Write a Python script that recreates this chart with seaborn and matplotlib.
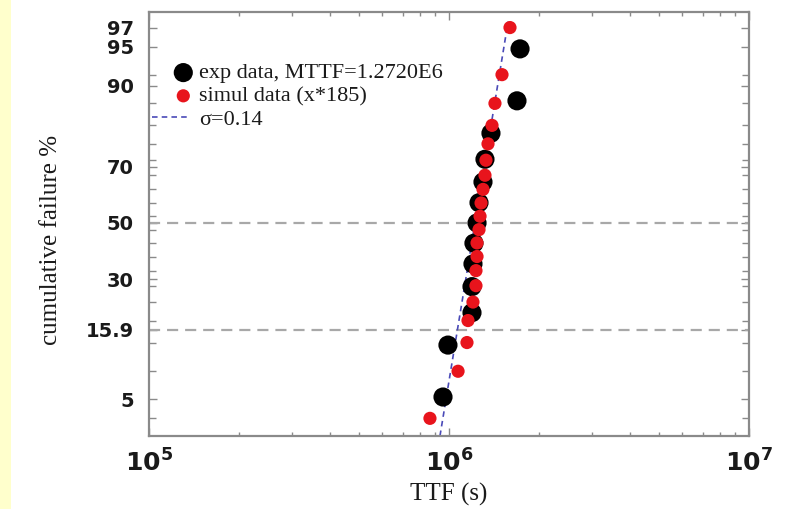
import numpy as np
import pandas as pd
import matplotlib
matplotlib.use("Agg")
import matplotlib.pyplot as plt
import matplotlib.ticker as mticker
from matplotlib.patches import Rectangle
from matplotlib.legend_handler import HandlerPathCollection
from matplotlib.collections import PathCollection
import seaborn as sns
from statistics import NormalDist

# ---------------- data ----------------
exp_ttf = [0.955e6, 0.992e6, 1.193e6, 1.193e6, 1.202e6, 1.211e6, 1.240e6,
           1.259e6, 1.298e6, 1.318e6, 1.380e6, 1.685e6, 1.725e6]
exp_pct = [5.2, 12.7, 20.1, 27.6, 35.1, 42.5, 50.0, 57.5, 64.9, 72.4, 79.9, 87.3, 94.8]

sim_ttf = [0.864e6, 1.072e6, 1.148e6, 1.157e6, 1.202e6, 1.230e6, 1.230e6,
           1.240e6, 1.240e6, 1.259e6, 1.269e6, 1.279e6, 1.298e6, 1.318e6,
           1.328e6, 1.349e6, 1.391e6, 1.423e6, 1.502e6, 1.597e6]
sim_pct = [3.4, 8.3, 13.2, 18.1, 23.0, 27.9, 32.8, 37.7, 42.6, 47.5,
           52.5, 57.4, 62.3, 67.2, 72.1, 77.0, 81.9, 86.8, 91.7, 96.6]

fit_ttf = [0.933e6, 1.574e6]
fit_pct = [2.33, 97.0]

ref_pct = [50, 15.9]

ytick_vals = [5, 15.9, 30, 50, 70, 90, 95, 96.6]
ytick_labels = ["5", "15.9", "30", "50", "70", "90", "95", "97"]
xtick_vals = [1e5, 1e6, 1e7]
xtick_labels = [r"$\mathbf{10^{5}}$", r"$\mathbf{10^{6}}$", r"$\mathbf{10^{7}}$"]

exp_label = "exp data, MTTF=1.2720E6"
sim_label = "simul data (x*185)"
fit_label = "σ=0.14"

# ---------------- probit scale helpers ----------------
_nd = NormalDist()

def _fwd(p):
    p = np.asarray(p, dtype=float)
    q = np.clip(p / 100.0, 1e-12, 1 - 1e-12)
    out = [(_nd.inv_cdf(v) if np.isfinite(v) else np.nan) for v in np.ravel(q)]
    return np.array(out, dtype=float).reshape(q.shape)

def _inv(z):
    z = np.asarray(z, dtype=float)
    out = [(_nd.cdf(v) * 100.0 if np.isfinite(v) else np.nan) for v in np.ravel(z)]
    return np.array(out, dtype=float).reshape(z.shape)


class RightMarkerHandler(HandlerPathCollection):
    def get_xdata(self, legend, xdescent, ydescent, width, height, fontsize):
        xdata, _ = super().get_xdata(legend, xdescent, ydescent, width, height, fontsize)
        return xdata, [-xdescent + 0.88 * width]


# ---------------- figure ----------------
sns.set_theme(style="white")
plt.rcParams["font.family"] = ["DejaVu Sans"]
plt.rcParams["lines.scale_dashes"] = False
plt.rcParams["mathtext.fontset"] = "dejavusans"

fig = plt.figure(figsize=(8, 5.09), dpi=100)
fig.patch.set_facecolor("white")
fig.patches.append(Rectangle((0, 0), 11 / 800, 1, transform=fig.transFigure,
                             facecolor="#FFFFCC", edgecolor="none", zorder=-10))
ax = fig.add_axes([149 / 800, 1 - 436 / 509, 600 / 800, 424 / 509])

exp_df = pd.DataFrame({"ttf": exp_ttf, "pct": exp_pct})
sim_df = pd.DataFrame({"ttf": sim_ttf, "pct": sim_pct})
fit_df = pd.DataFrame({"ttf": fit_ttf, "pct": fit_pct})

ax.set_xscale("log")
ax.set_yscale("function", functions=(_fwd, _inv))

for r in ref_pct:
    ax.axhline(r, color="#a8a8a8", lw=1.6, dashes=(8, 5), zorder=1)

sns.lineplot(data=fit_df, x="ttf", y="pct", ax=ax, color="#4a4ab8", lw=1.2,
             dashes=False, label=fit_label, zorder=2, sort=False)
ax.lines[-1].set_dashes((4, 3))

sns.scatterplot(data=exp_df, x="ttf", y="pct", ax=ax, color="black", s=190,
                edgecolor="none", label=exp_label, zorder=3)
sns.scatterplot(data=sim_df, x="ttf", y="pct", ax=ax, color="#e8141c", s=90,
                edgecolor="none", label=sim_label, zorder=4)

ax.set_xlim(1e5, 1e7)
ax.set_ylim(2.33, 97.56)

ax.xaxis.set_major_locator(mticker.FixedLocator(xtick_vals))
ax.set_xticklabels(xtick_labels)
ax.xaxis.set_minor_locator(mticker.LogLocator(base=10, subs=np.arange(2, 10)))
ax.xaxis.set_minor_formatter(mticker.NullFormatter())

ax.yaxis.set_major_locator(mticker.FixedLocator(ytick_vals))
ax.yaxis.set_major_formatter(mticker.FixedFormatter(ytick_labels))
ax.yaxis.set_minor_locator(mticker.FixedLocator(sim_pct[:-1]))
ax.yaxis.set_minor_formatter(mticker.NullFormatter())

for s in ax.spines.values():
    s.set_visible(True)
    s.set_color("#8a8a8a")
    s.set_linewidth(1.6)

ax.tick_params(axis="both", which="both", direction="in", colors="#8a8a8a",
               top=True, right=True, bottom=True, left=True)
ax.tick_params(axis="x", which="major", length=6, width=1, pad=10,
               labelsize=18, labelcolor="#1a1a1a")
ax.tick_params(axis="x", which="minor", length=3, width=1)
ax.tick_params(axis="y", which="major", length=6, width=1, pad=11,
               labelsize=14, labelcolor="#1a1a1a")
ax.tick_params(axis="y", which="minor", length=5, width=1)
for lab in ax.get_yticklabels():
    lab.set_fontweight("bold")

serif = ["Liberation Serif", "DejaVu Serif"]
ax.set_xlabel("TTF (s)", family=serif, fontsize=18, color="#1a1a1a")
ax.set_ylabel("cumulative failure %", family=serif, fontsize=18, color="#1a1a1a")
ax.xaxis.set_label_coords(0.5, -0.11)
ax.yaxis.set_label_coords(-0.145, 0.462)

handles, labels = ax.get_legend_handles_labels()
order = [labels.index(exp_label), labels.index(sim_label), labels.index(fit_label)]
leg = ax.legend([handles[i] for i in order], [labels[i] for i in order],
                loc="upper left", bbox_to_anchor=(0.005, 0.88), frameon=False,
                prop={"family": serif, "size": 16}, borderpad=0, borderaxespad=0,
                handlelength=1.6, handletextpad=0.5, labelspacing=0.12,
                handler_map={PathCollection: RightMarkerHandler()})
for t in leg.get_texts():
    t.set_color("#1a1a1a")

fig.savefig("out.png", dpi=100, facecolor="white")
